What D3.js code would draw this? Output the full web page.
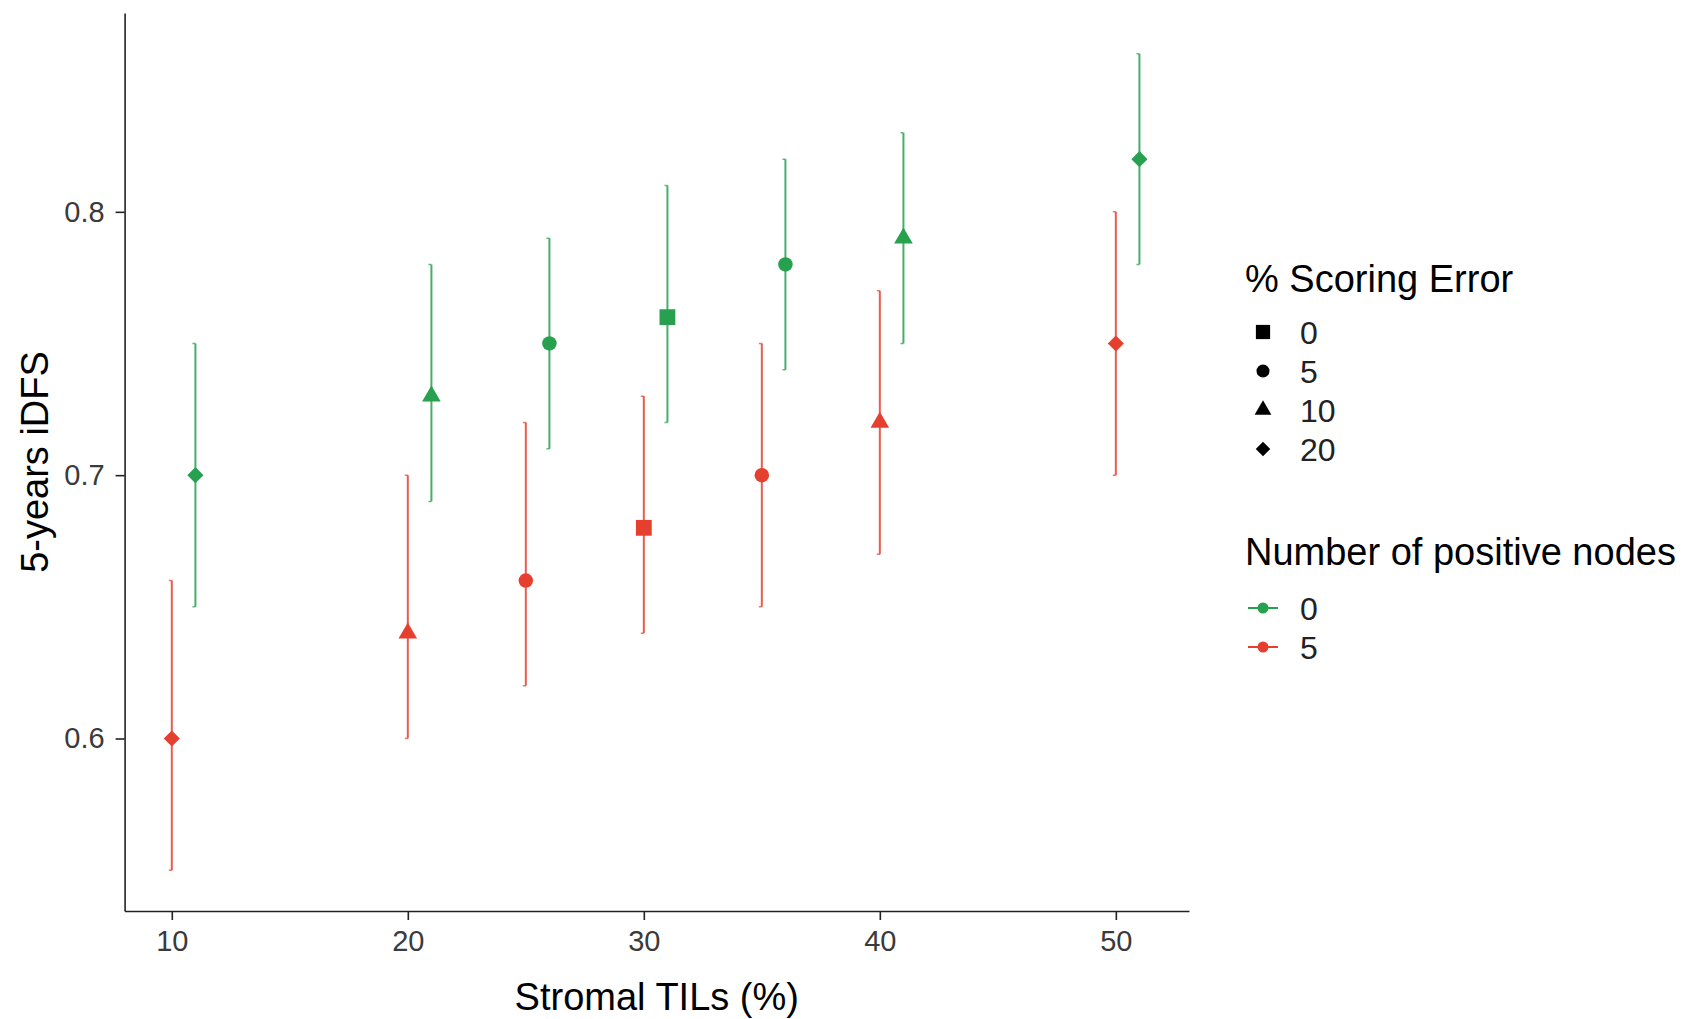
<!DOCTYPE html>
<html lang="en">
<head>
<meta charset="UTF-8">
<title>5-years iDFS by stromal TILs</title>
<script src="https://d3js.org/d3.v7.min.js"></script>
<style>
  body { margin: 0; background: #fff; }
  svg { display: block; font-family: Arial, "Liberation Sans", sans-serif; }
  .axis path, .axis line { stroke: #222; stroke-width: 1.6; }
  .axis text { fill: #3a3a3a; font-size: 29px; font-family: Arial, "Liberation Sans", sans-serif; }
  .title { fill: #000; font-size: 38px; }
  .leg-label { fill: #222; font-size: 32px; }
</style>
</head>
<body>
<svg id="chart" width="1684" height="1019"></svg>
<script>
// stromal TILs (%) and % scoring error for each estimate
const tils = [10, 20, 25, 30, 35, 40, 50];
const scoringError = [20, 10, 5, 0, 5, 10, 20];

// 5-years iDFS, node-negative (0 positive nodes)
const idfsN0 = [0.70, 0.73, 0.75, 0.76, 0.78, 0.79, 0.82];
const lowN0 = [0.65, 0.69, 0.71, 0.72, 0.74, 0.75, 0.78];
const highN0 = [0.75, 0.78, 0.79, 0.81, 0.82, 0.83, 0.86];

// 5-years iDFS, 5 positive nodes
const idfsN5 = [0.60, 0.64, 0.66, 0.68, 0.70, 0.72, 0.75];
const lowN5 = [0.55, 0.60, 0.62, 0.64, 0.65, 0.67, 0.70];
const highN5 = [0.66, 0.70, 0.72, 0.73, 0.75, 0.77, 0.80];

const errorLevels = [0, 5, 10, 20];
const nodeLevels = [0, 5];
const xTicks = [10, 20, 30, 40, 50];
const yTicks = [0.6, 0.7, 0.8];

const dodge = { 0: 1, 5: 0 };   // node-negative series is shifted right by 1
const colors = { 0: "#27a04f", 5: "#e5402f" };

const rows = [];
tils.forEach((t, i) => {
  rows.push({ node: 0, til: t, err: scoringError[i], v: idfsN0[i], lo: lowN0[i], hi: highN0[i] });
  rows.push({ node: 5, til: t, err: scoringError[i], v: idfsN5[i], lo: lowN5[i], hi: highN5[i] });
});

const svg = d3.select("#chart");
const pLeft = 124.6, pRight = 1189, pTop = 13, pBottom = 911;

const x = d3.scaleLinear().domain([8.0, 53.1]).range([pLeft, pRight]);
const y = d3.scaleLinear().domain([0.5345, 0.8755]).range([pBottom, pTop]);

const shape = d3.scaleOrdinal()
  .domain(errorLevels)
  .range([d3.symbolSquare, d3.symbolCircle, d3.symbolTriangle, d3.symbolSquare]);
const shapeSize = d3.scaleOrdinal().domain(errorLevels).range([250, 165, 150, 130]);
const sym = e => d3.symbol().type(shape(e)).size(shapeSize(e))();
const rot = e => e === 20 ? " rotate(45)" : "";

// axes
svg.append("g")
  .attr("class", "axis")
  .attr("transform", `translate(0,${pBottom})`)
  .call(d3.axisBottom(x).tickValues(xTicks).tickSize(9).tickPadding(10).tickSizeOuter(0));

svg.append("g")
  .attr("class", "axis")
  .attr("transform", `translate(${pLeft},0)`)
  .call(d3.axisLeft(y).tickValues(yTicks).tickFormat(d3.format(".1f")).tickSize(9).tickPadding(11).tickSizeOuter(0));

svg.append("text")
  .attr("class", "title")
  .attr("x", (pLeft + pRight) / 2)
  .attr("y", 1010)
  .attr("text-anchor", "middle")
  .text("Stromal TILs (%)");

svg.append("text")
  .attr("class", "title")
  .attr("transform", `translate(48,${(pTop + pBottom) / 2}) rotate(-90)`)
  .attr("text-anchor", "middle")
  .text("5-years iDFS");

// error bars
const g = svg.append("g");
g.selectAll("line.bar")
  .data(rows)
  .join("line")
  .attr("class", "bar")
  .attr("x1", d => x(d.til + dodge[d.node]))
  .attr("x2", d => x(d.til + dodge[d.node]))
  .attr("y1", d => y(d.lo))
  .attr("y2", d => y(d.hi))
  .attr("stroke", d => colors[d.node])
  .attr("stroke-opacity", 0.85)
  .attr("stroke-width", 2);

// tiny caps
g.selectAll("path.cap")
  .data(rows)
  .join("path")
  .attr("class", "cap")
  .attr("d", d => {
    const cx = x(d.til + dodge[d.node]);
    return `M${cx - 3},${y(d.lo)}H${cx}M${cx - 3},${y(d.hi)}H${cx}`;
  })
  .attr("stroke", d => colors[d.node])
  .attr("stroke-opacity", 0.7)
  .attr("stroke-width", 1.5)
  .attr("fill", "none");

g.selectAll("path.pt")
  .data(rows)
  .join("path")
  .attr("class", "pt")
  .attr("d", d => sym(d.err))
  .attr("transform", d => `translate(${x(d.til + dodge[d.node])},${y(d.v)})${rot(d.err)}`)
  .attr("fill", d => colors[d.node]);

// legend: scoring error shapes
const leg = svg.append("g");
leg.append("text").attr("class", "title").attr("x", 1245).attr("y", 292).text("% Scoring Error");
const errRows = leg.selectAll("g.err")
  .data(errorLevels)
  .join("g")
  .attr("class", "err")
  .attr("transform", (d, i) => `translate(1263,${332 + i * 39})`);
errRows.append("path")
  .attr("d", d => sym(d))
  .attr("fill", "#000")
  .attr("transform", d => d === 20 ? "rotate(45) scale(0.9)" : "scale(0.9)");
errRows.append("text")
  .attr("class", "leg-label")
  .attr("x", 37)
  .attr("y", 12)
  .text(d => d);

// legend: positive nodes colours
leg.append("text").attr("class", "title").attr("x", 1245).attr("y", 565).text("Number of positive nodes");
const nodeRows = leg.selectAll("g.node")
  .data(nodeLevels)
  .join("g")
  .attr("class", "node")
  .attr("transform", (d, i) => `translate(1263,${608 + i * 39})`);
nodeRows.append("line")
  .attr("x1", -15).attr("x2", 15)
  .attr("stroke", d => colors[d])
  .attr("stroke-width", 2);
nodeRows.append("circle")
  .attr("r", 5.5)
  .attr("fill", d => colors[d]);
nodeRows.append("text")
  .attr("class", "leg-label")
  .attr("x", 37)
  .attr("y", 12)
  .text(d => d);
</script>
</body>
</html>
